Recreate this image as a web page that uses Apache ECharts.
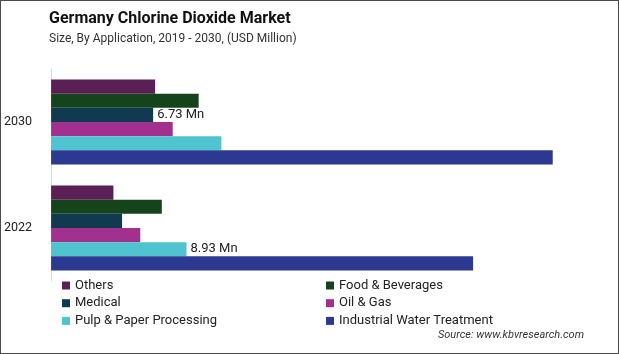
<!DOCTYPE html>
<html>
<head>
<meta charset="utf-8">
<script src="https://cdn.jsdelivr.net/npm/echarts@6/dist/echarts.min.js"></script>
<style>
  html, body { margin: 0; padding: 0; background: #fff; }
  #main { width: 617px; height: 352px; border: 1px solid #4a4a4a; }
</style>
</head>
<body>
<div id="main"></div>
<script>
const years = ['2022', '2030'];
const seriesNames = ['Others', 'Food & Beverages', 'Medical', 'Oil & Gas', 'Pulp & Paper Processing', 'Industrial Water Treatment'];
const others = [4.11, 6.86];
const food = [7.30, 9.73];
const medical = [4.68, 6.73];
const oilGas = [5.88, 8.02];
const pulpPaper = [8.93, 11.23];
const waterTreatment = [27.83, 33.08];
// which bar carries a value label: [series index, year index]
const labelled = [[2, 1], [4, 0]];

const colors = ['#5c1f55', '#15431c', '#103a4f', '#a1308f', '#4fc3cf', '#2b3990'];
const allValues = [others, food, medical, oilGas, pulpPaper, waterTreatment];

const chart = echarts.init(document.getElementById('main'));

const series = allValues.map((vals, si) => ({
  name: seriesNames[si],
  type: 'bar',
  barGap: 0,
  barCategoryGap: '20%',
  itemStyle: { color: colors[si] },
  data: vals.map((v, yi) => {
    const hasLabel = labelled.some(p => p[0] === si && p[1] === yi);
    return {
      value: v,
      label: {
        show: hasLabel,
        position: 'right',
        distance: 4,
        color: '#222',
        fontSize: 13,
        fontFamily: 'Roboto',
        formatter: '{c} Mn'
      }
    };
  })
}));

const legendText = { color: '#222', fontSize: 13, fontFamily: 'Roboto' };

chart.setOption({
  animation: false,
  title: [{
    text: 'Germany Chlorine Dioxide Market',
    left: 43, top: 5,
    textStyle: { fontSize: 16, fontWeight: 'bold', color: '#111', fontFamily: 'Roboto' }
  }, {
    text: 'Size, By Application, 2019 - 2030, (USD Million)',
    left: 43, top: 27,
    textStyle: { fontSize: 12, fontWeight: 'normal', color: '#333', fontFamily: 'Roboto' }
  }, {
    text: 'Source: www.kbvresearch.com',
    right: 29, top: 324,
    textStyle: { fontSize: 11, fontWeight: 'normal', fontStyle: 'italic', color: '#333', fontFamily: 'Roboto' }
  }],
  legend: [{
    data: [seriesNames[0], seriesNames[2], seriesNames[4]],
    orient: 'vertical',
    left: 56, top: 273,
    itemWidth: 8, itemHeight: 8, itemGap: 4.7,
    icon: 'rect',
    textStyle: legendText
  }, {
    data: [seriesNames[1], seriesNames[3], seriesNames[5]],
    orient: 'vertical',
    left: 320, top: 273,
    itemWidth: 8, itemHeight: 8, itemGap: 4.7,
    icon: 'rect',
    textStyle: legendText
  }],
  grid: { left: 47, right: 21, top: 68, bottom: 72 },
  xAxis: {
    type: 'value',
    min: 0, max: 36,
    show: false
  },
  yAxis: {
    type: 'category',
    data: years,
    axisLine: { lineStyle: { color: '#d9d9d9' } },
    axisTick: { show: false },
    axisLabel: { color: '#222', fontSize: 12.5, fontFamily: 'Roboto', margin: 19 }
  },
  series: series
});
</script>
</body>
</html>
